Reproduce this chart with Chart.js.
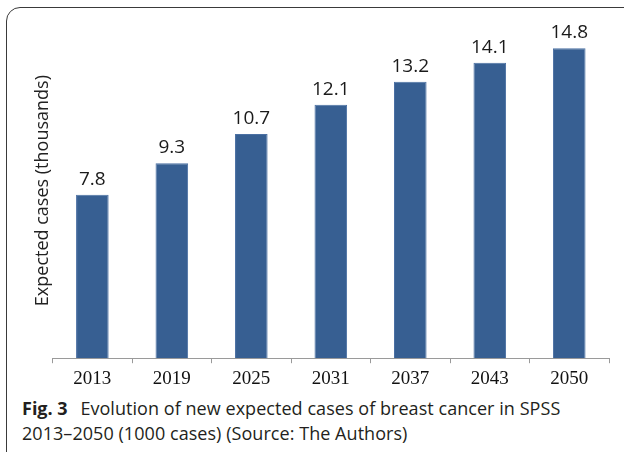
<!DOCTYPE html>
<html>
<head>
<meta charset="utf-8">
<script src="https://cdn.jsdelivr.net/npm/chart.js@4"></script>
<style>
  html, body { margin: 0; padding: 0; background: #fff; }
  body { width: 624px; height: 452px; position: relative; overflow: hidden; }
  #frame {
    position: absolute; left: 6px; top: 7px; width: 700px; height: 600px;
    border: 1.5px solid #3a3a3a; border-radius: 14px; box-sizing: border-box;
  }
  #wrap { position: absolute; left: 0; top: 0; width: 624px; height: 394px; }
  #caption {
    position: absolute; left: 22px; top: 396px; width: 610px;
    font-family: "Open Sans", sans-serif; font-size: 18px; line-height: 25px;
    color: #231f20; letter-spacing: 0.05px; white-space: nowrap;
  }
  #caption b { font-weight: 700; margin-right: 8px; letter-spacing: 0; }
</style>
</head>
<body>
<div id="frame"></div>
<div id="wrap"><canvas id="casesChart"></canvas></div>
<div id="caption"><b>Fig. 3</b> Evolution of new expected cases of breast cancer in SPSS<br>2013–2050 (1000 cases) (Source: The Authors)</div>
<script>
const years = ["2013", "2019", "2025", "2031", "2037", "2043", "2050"];
const expectedCases = [7.8, 9.3, 10.7, 12.1, 13.2, 14.1, 14.8];
const yAxisTitle = "Expected cases (thousands)";

// writes the value above each bar
const valueLabels = {
  id: "valueLabels",
  afterDatasetsDraw(chart) {
    const ctx = chart.ctx;
    const meta = chart.getDatasetMeta(0);
    ctx.save();
    ctx.font = "19px 'Open Sans', sans-serif";
    ctx.fillStyle = "#1a1a1a";
    ctx.textAlign = "center";
    ctx.textBaseline = "alphabetic";
    meta.data.forEach((bar, i) => {
      ctx.fillText(expectedCases[i].toFixed(1), bar.x, bar.y - 10);
    });
    ctx.restore();
  }
};

window.addEventListener("DOMContentLoaded", () => {
  new Chart(document.getElementById("casesChart"), {
    type: "bar",
    data: {
      labels: years,
      datasets: [
        {
          data: expectedCases,
          backgroundColor: "#375f92",
          borderColor: "#4b70a3",
          borderWidth: 1,
          categoryPercentage: 1,
          barPercentage: 0.41
        }
      ]
    },
    options: {
      responsive: true,
      maintainAspectRatio: false,
      animation: false,
      layout: { padding: { left: 28, right: 15, top: 23, bottom: 0 } },
      plugins: { legend: { display: false }, tooltip: { enabled: false } },
      scales: {
        x: {
          offset: true,
          grid: {
            display: true,
            drawOnChartArea: false,
            offset: true,
            tickLength: 5,
            color: "#9a9a9a"
          },
          border: { display: true, color: "#9a9a9a", width: 1 },
          ticks: {
            color: "#111",
            padding: 4,
            font: { family: "'Liberation Serif', serif", size: 19 }
          }
        },
        y: {
          min: 0,
          max: 16,
          grid: { display: false },
          border: { display: false },
          ticks: { display: false },
          title: {
            display: true,
            text: yAxisTitle,
            color: "#222",
            padding: { top: 4, bottom: -9 },
            font: { family: "'Open Sans', sans-serif", size: 18 }
          }
        }
      }
    },
    plugins: [valueLabels]
  });
});
</script>
</body>
</html>
